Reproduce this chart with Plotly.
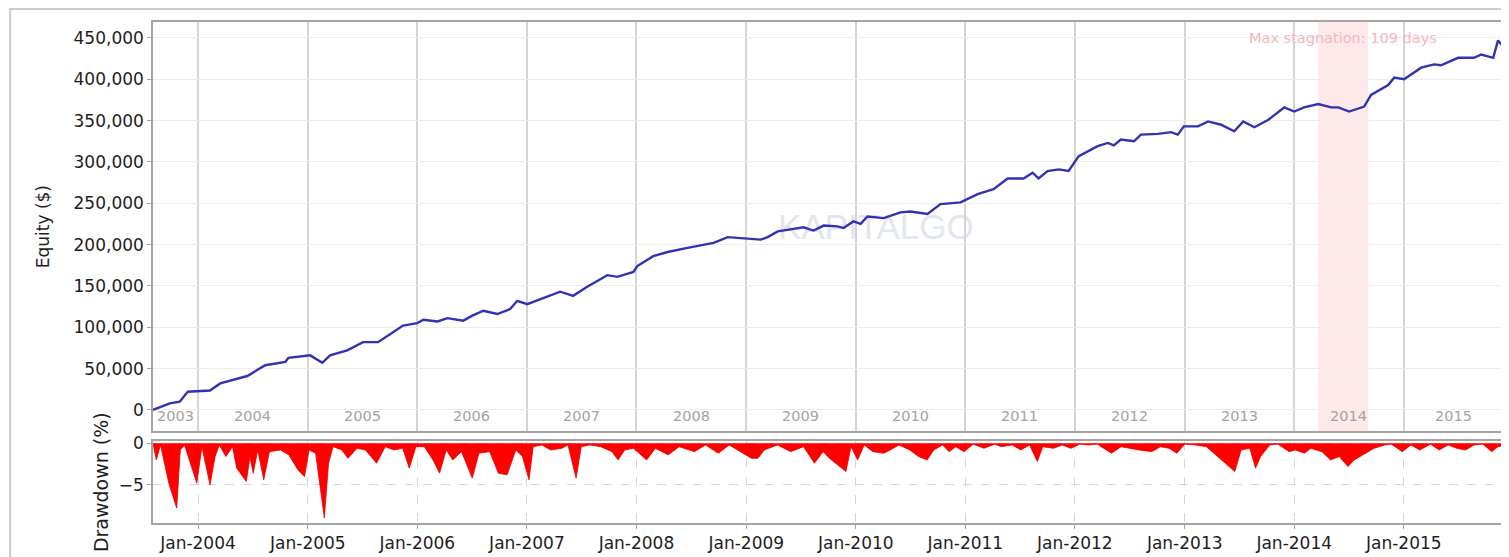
import plotly.graph_objects as go

# ---------------- data ----------------
equity_dates = [
    "2003-08-04", "2003-09-29", "2003-11-01", "2003-11-28", "2004-02-10", "2004-03-15",
    "2004-06-13", "2004-08-12", "2004-10-18", "2004-10-28", "2005-01-09", "2005-02-18",
    "2005-03-16", "2005-05-12", "2005-07-04", "2005-08-23", "2005-10-12", "2005-11-14",
    "2006-01-01", "2006-01-21", "2006-03-09", "2006-04-11", "2006-06-03", "2006-07-03",
    "2006-08-09", "2006-09-24", "2006-11-06", "2006-11-30", "2007-01-02", "2007-03-19",
    "2007-04-22", "2007-06-04", "2007-07-21", "2007-09-26", "2007-10-29", "2007-12-22",
    "2008-01-04", "2008-02-26", "2008-04-14", "2008-06-19", "2008-09-14", "2008-10-31",
    "2009-01-06", "2009-02-18", "2009-03-13", "2009-04-16", "2009-06-08", "2009-07-11",
    "2009-08-13", "2009-09-16", "2009-11-01", "2009-11-21", "2009-12-24", "2010-01-17",
    "2010-02-09", "2010-04-04", "2010-05-30", "2010-07-02", "2010-08-28", "2010-10-10",
    "2010-12-16", "2011-02-11", "2011-04-05", "2011-05-22", "2011-07-14", "2011-08-13",
    "2011-09-02", "2011-10-02", "2011-11-08", "2011-12-11", "2012-01-14", "2012-03-17",
    "2012-04-20", "2012-05-10", "2012-06-02", "2012-07-16", "2012-08-08", "2012-10-04",
    "2012-11-16", "2012-12-09", "2012-12-29", "2013-02-14", "2013-03-20", "2013-05-02",
    "2013-06-15", "2013-07-15", "2013-08-21", "2013-10-07", "2013-11-29", "2014-01-01",
    "2014-02-03", "2014-03-22", "2014-05-04", "2014-05-28", "2014-07-03", "2014-08-22",
    "2014-09-14", "2014-11-10", "2014-11-30", "2015-01-02", "2015-02-28", "2015-04-12",
    "2015-05-05", "2015-07-01", "2015-08-23", "2015-09-16", "2015-10-26", "2015-11-11",
    "2015-11-28",
]
equity_values = [
    0, 8000, 10000, 22000, 23500, 32000,
    41000, 54000, 58000, 63000, 66000, 57000,
    66000, 72000, 82000, 82000, 94000, 102000,
    105000, 109000, 107000, 111000, 108000, 114000,
    120000, 116000, 122000, 132000, 128000, 139000,
    143000, 138000, 149000, 163000, 161000, 167000,
    174000, 186000, 191000, 196000, 202000, 209000,
    207000, 206000, 209000, 216000, 219000, 221000,
    217000, 223000, 222000, 220000, 228000, 225000,
    234000, 232000, 239000, 240000, 237000, 249000,
    251000, 261000, 267000, 280000, 280000, 287000,
    280000, 289000, 291000, 289000, 307000, 319000,
    323000, 320000, 327000, 325000, 333000, 334000,
    336000, 333000, 343000, 343000, 349000, 345000,
    337000, 349000, 342000, 351000, 366000, 361000,
    366000, 370000, 366000, 366000, 361000, 367000,
    381000, 393000, 402000, 400000, 414000, 418000,
    417000, 426000, 426000, 430000, 426000, 447000,
    440000,
]

dd_dates = [
    "2003-08-04", "2003-08-15", "2003-08-29", "2003-09-27", "2003-10-22", "2003-11-03",
    "2003-11-17", "2003-12-28", "2004-01-14", "2004-02-10", "2004-02-27", "2004-03-12",
    "2004-04-03", "2004-04-25", "2004-05-09", "2004-06-10", "2004-06-22", "2004-07-03",
    "2004-07-18", "2004-08-07", "2004-08-26", "2004-10-02", "2004-10-30", "2004-11-29",
    "2004-12-21", "2005-01-05", "2005-01-27", "2005-02-25", "2005-03-11", "2005-03-26",
    "2005-04-24", "2005-05-15", "2005-06-14", "2005-07-12", "2005-08-18", "2005-09-16",
    "2005-10-15", "2005-11-13", "2005-12-05", "2005-12-27", "2006-01-24", "2006-02-22",
    "2006-03-16", "2006-04-07", "2006-04-29", "2006-05-28", "2006-07-03", "2006-07-25",
    "2006-08-30", "2006-09-28", "2006-10-27", "2006-11-25", "2006-12-17", "2007-01-08",
    "2007-01-22", "2007-02-20", "2007-03-21", "2007-04-27", "2007-05-18", "2007-06-14",
    "2007-07-01", "2007-07-30", "2007-09-04", "2007-10-11", "2007-11-01", "2007-11-23",
    "2007-12-22", "2008-02-04", "2008-03-04", "2008-04-16", "2008-05-22", "2008-07-12",
    "2008-08-18", "2008-09-30", "2008-11-05", "2008-12-19", "2009-01-18", "2009-02-09",
    "2009-03-02", "2009-04-15", "2009-05-29", "2009-07-11", "2009-08-16", "2009-09-14",
    "2009-10-05", "2009-11-29", "2009-12-16", "2010-01-07", "2010-01-29", "2010-02-27",
    "2010-04-04", "2010-04-26", "2010-05-25", "2010-06-30", "2010-07-29", "2010-08-27",
    "2010-09-18", "2010-10-17", "2010-11-08", "2010-11-30", "2010-12-28", "2011-01-27",
    "2011-03-04", "2011-04-09", "2011-05-01", "2011-06-06", "2011-07-05", "2011-08-03",
    "2011-08-29", "2011-09-16", "2011-10-22", "2011-11-20", "2011-12-19", "2012-01-17",
    "2012-02-15", "2012-03-16", "2012-05-02", "2012-06-03", "2012-07-02", "2012-08-01",
    "2012-09-13", "2012-10-12", "2012-11-10", "2012-12-06", "2013-01-01", "2013-02-06",
    "2013-03-14", "2013-04-20", "2013-05-18", "2013-06-17", "2013-07-08", "2013-08-06",
    "2013-08-25", "2013-09-11", "2013-10-11", "2013-11-08", "2013-12-15", "2014-01-05",
    "2014-02-04", "2014-02-25", "2014-04-03", "2014-05-02", "2014-05-31", "2014-06-29",
    "2014-07-20", "2014-08-26", "2014-09-24", "2014-10-30", "2014-11-21", "2014-12-27",
    "2015-01-25", "2015-02-23", "2015-03-31", "2015-04-29", "2015-05-29", "2015-06-26",
    "2015-07-26", "2015-08-23", "2015-09-22", "2015-10-21", "2015-11-11", "2015-11-28",
]
dd_values = [
    0.0, -2.0, -0.2, -5.0, -7.8, -0.8,
    -0.2, -4.8, -0.4, -5.0, -1.6, -0.2,
    -1.6, -0.4, -3.0, -4.6, -1.6, -3.6,
    -0.8, -4.4, -1.0, -0.8, -1.4, -3.2,
    -4.0, -0.8, -1.2, -9.0, -2.4, -0.4,
    -0.8, -1.8, -0.6, -0.8, -2.4, -0.4,
    -0.8, -0.6, -3.0, -0.4, -0.4, -2.0,
    -3.6, -0.8, -2.0, -1.0, -4.2, -1.2,
    -1.0, -3.6, -3.8, -0.8, -1.6, -4.4,
    -0.4, -0.2, -0.8, -0.6, -0.2, -4.2,
    -0.4, -0.2, -0.4, -1.0, -2.0, -0.8,
    -0.6, -2.0, -0.6, -1.4, -0.4, -1.0,
    -0.2, -1.2, -0.2, -1.2, -1.8, -1.8,
    -0.8, -0.2, -1.0, -0.4, -2.4, -1.0,
    -1.8, -3.4, -0.4, -2.0, -0.2, -1.0,
    -1.2, -0.8, -0.2, -0.8, -1.6, -2.0,
    -0.8, -0.2, -1.0, -0.4, -1.0, -0.1,
    -0.6, -0.1, -0.4, -0.2, -0.8, -0.2,
    -2.2, -0.4, -0.6, -0.2, -0.6, -0.1,
    -0.2, -0.1, -1.2, -0.4, -0.6, -0.8,
    -1.0, -0.4, -0.6, -1.2, -0.1, -0.2,
    -0.4, -1.6, -2.4, -3.4, -0.8, -0.6,
    -3.0, -1.6, -0.2, -0.1, -1.0, -0.8,
    -1.2, -0.6, -1.0, -2.0, -1.6, -2.8,
    -2.0, -1.2, -0.6, -0.2, -0.1, -1.0,
    -0.2, -0.8, -0.1, -0.8, -0.2, -0.6,
    -0.8, -0.2, -0.1, -1.0, -0.4, -0.3,
]

year_labels = ["2003", "2004", "2005", "2006", "2007", "2008", "2009",
               "2010", "2011", "2012", "2013", "2014", "2015"]
year_label_dates = ["2003-10-17", "2004-07-01", "2005-07-01", "2006-07-01", "2007-07-01",
                    "2008-07-01", "2009-07-01", "2010-07-01", "2011-07-01", "2012-07-01",
                    "2013-07-01", "2014-07-01", "2015-06-15"]

stagnation_start = "2014-03-22"
stagnation_end = "2014-09-04"
stagnation_text = "Max stagnation: 109 days"
x_range = ["2003-08-04", "2015-12-01"]

# ---------------- figure ----------------
FONT = "DejaVu Sans"
fig = go.Figure()

fig.add_trace(go.Scatter(
    x=equity_dates, y=equity_values, mode="lines",
    line=dict(color="#3232b4", width=2.4), xaxis="x", yaxis="y",
    showlegend=False, hoverinfo="x+y"))

fig.add_trace(go.Scatter(
    x=dd_dates, y=dd_values, mode="lines", fill="tozeroy",
    fillcolor="#ff0000", line=dict(color="#e80000", width=0.8),
    xaxis="x2", yaxis="y2", showlegend=False))

annotations = []
for lab, d in zip(year_labels, year_label_dates):
    annotations.append(dict(x=d, y=-7500, xref="x", yref="y", text=lab, showarrow=False,
                            font=dict(family=FONT, size=14.5, color="#a3a3a3"),
                            xanchor="center", yanchor="middle"))

mid_stag = "2014-06-13"
annotations.append(dict(x=mid_stag, y=450500, xref="x", yref="y", text=stagnation_text,
                        showarrow=False, font=dict(family=FONT, size=14.5, color="#f4b8b8"),
                        xanchor="center", yanchor="middle"))

shapes = [
    dict(type="rect", xref="x", yref="y domain", x0=stagnation_start, x1=stagnation_end,
         y0=0, y1=1, fillcolor="#fde9e9", line=dict(width=0), layer="below"),
    dict(type="rect", xref="paper", yref="paper", x0=-0.1058, x1=1.02, y0=-0.09, y1=1.0258,
         line=dict(color="#cccccc", width=2), fillcolor="rgba(0,0,0,0)", layer="below"),
    # watermark drawn below the data
    dict(type="rect", xref="paper", yref="paper", x0=0.44, x1=0.63, y0=0.55, y1=0.645,
         line=dict(width=0), fillcolor="rgba(0,0,0,0)", layer="below",
         label=dict(text="KAPITALGO", textposition="middle center",
                    font=dict(family="Liberation Sans", size=35, color="#e2e7ee"))),
]

axis_line = "#a4a4a4"
fig.update_layout(
    width=1509, height=557,
    margin=dict(l=145, r=13, t=14, b=40),
    paper_bgcolor="white", plot_bgcolor="white",
    font=dict(family=FONT, size=16, color="#1e1e1e"),
    showlegend=False,
    annotations=annotations,
    shapes=shapes,
    xaxis=dict(domain=[0, 1], anchor="y", type="date", range=x_range,
               showticklabels=False, ticks="", dtick="M12", tick0="2004-01-01",
               showgrid=True, gridcolor="#d4d4d4", gridwidth=1.5,
               showline=True, mirror=True, linecolor=axis_line, linewidth=1.5),
    xaxis2=dict(domain=[0, 1], anchor="y2", type="date", matches="x", range=x_range,
                dtick="M12", tick0="2004-01-01", tickformat="%b-%Y",
                ticks="outside", ticklen=4, tickcolor=axis_line,
                tickfont=dict(family=FONT, size=17, color="#1e1e1e"),
                showgrid=True, gridcolor="#d6d6d6", griddash="dash", gridwidth=1,
                showline=True, mirror=True, linecolor=axis_line, linewidth=1.5),
    yaxis=dict(domain=[0.183, 1], anchor="x", range=[-25900, 469300],
               tickvals=[0, 50000, 100000, 150000, 200000, 250000, 300000, 350000, 400000, 450000],
               tickformat=",d", ticks="outside", ticklen=4, tickcolor=axis_line,
               tickfont=dict(family=FONT, size=17, color="#1e1e1e"),
               showgrid=True, gridcolor="#ececec", gridwidth=1, zeroline=False,
               showline=True, mirror=True, linecolor=axis_line, linewidth=1.5,
               title=dict(text="Equity ($)", font=dict(family=FONT, size=17, color="#1e1e1e"),
                          standoff=20), automargin=False),
    yaxis2=dict(domain=[0, 0.163], anchor="x2", range=[-9.6, 0.24],
                tickvals=[0, -5], ticks="outside", ticklen=4, tickcolor=axis_line,
                tickfont=dict(family=FONT, size=17, color="#1e1e1e"),
                showgrid=True, gridcolor="#d6d6d6", griddash="dash", zeroline=False,
                showline=True, mirror=True, linecolor=axis_line, linewidth=1.5,
                title=dict(text="Drawdown (%)", font=dict(family=FONT, size=19, color="#1e1e1e"),
                           standoff=5), automargin=False),
)

fig.write_html("out.html")
